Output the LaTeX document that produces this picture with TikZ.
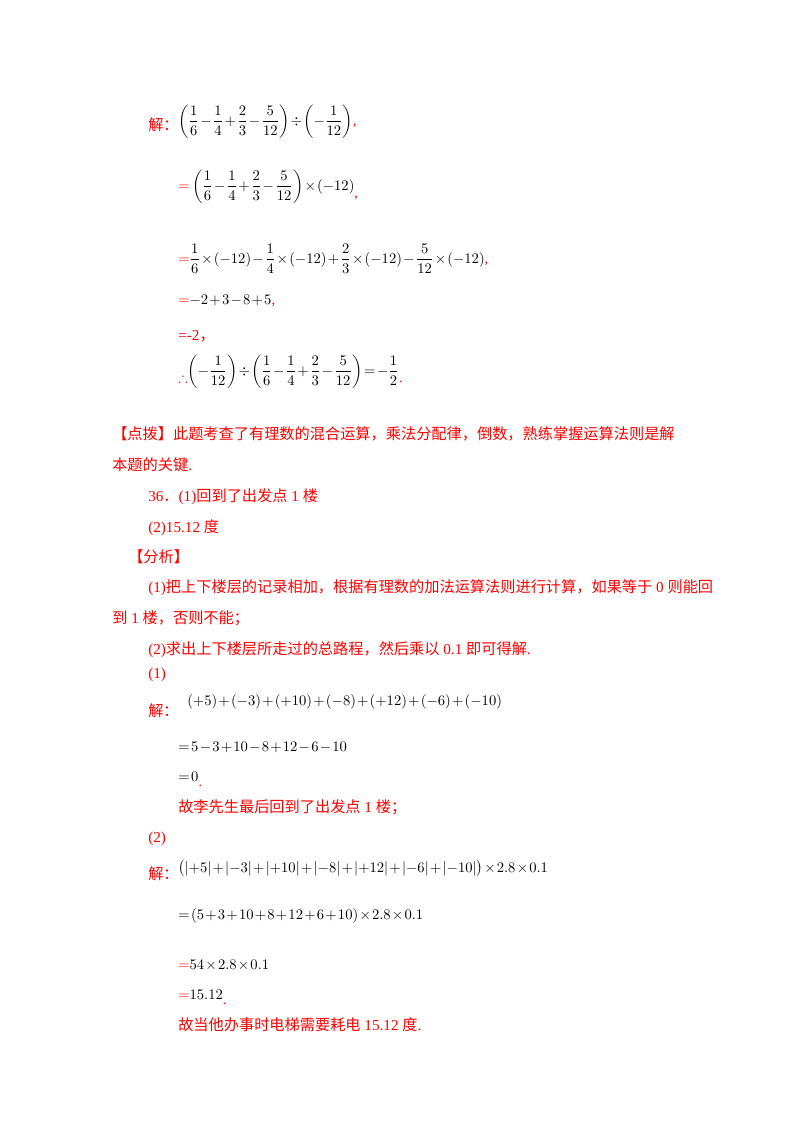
\documentclass[tikz,border=0pt]{standalone}
\usepackage{amsmath,amssymb}
\usepackage{fontspec}
\setmainfont{Liberation Serif}
\newfontfamily\cjk{Noto Sans CJK SC}
\definecolor{rd}{RGB}{255,0,0}
\newcommand{\zh}[1]{{\cjk #1}}
\medmuskip=1.5mu plus 1mu
\thickmuskip=2mu plus 1mu
\begin{document}
\begin{tikzpicture}[x=0.75pt,y=-0.75pt,
  t/.style={anchor=base west,inner sep=0pt,font=\fontsize{11.4}{13}\selectfont},
  r/.style={t,text=rd},
  m/.style={t,font=\fontsize{10.5}{12}\selectfont}]
\useasboundingbox (0,0) rectangle (800,1132);
\node[r] (a1) at (148,130) {\zh{解：}};
\node[m] (a2) at (178,125) {$\left(\dfrac16-\dfrac14+\dfrac23-\dfrac5{12}\right)\div\left(-\dfrac1{12}\right)$\textcolor{rd}{,}};
\node[m] (b1) at (178,190) {$\textcolor{rd}{=}\left(\dfrac16-\dfrac14+\dfrac23-\dfrac5{12}\right)\times(-12)$\raisebox{-1.2ex}{\textcolor{rd}{,}}};
\node[m] (c1) at (178,263) {$\textcolor{rd}{=}\dfrac16\times(-12)-\dfrac14\times(-12)+\dfrac23\times(-12)-\dfrac5{12}\times(-12)$\textcolor{rd}{,}};
\node[m] (d1) at (178,304) {$\textcolor{rd}{=}{-2}+3-8+5$\textcolor{rd}{,}};
\node[r] (e1) at (178,340) {=-2\zh{，}};
\node[m] (f1) at (178,375) {\raisebox{-1.2ex}{\textcolor{rd}{$\therefore$}}$\left(-\dfrac1{12}\right)\div\left(\dfrac16-\dfrac14+\dfrac23-\dfrac5{12}\right)=-\dfrac12$\raisebox{-1.2ex}{\textcolor{rd}{.}}};
\node[r] (g1) at (112,439) {\zh{【点拨】此题考查了有理数的混合运算，乘法分配律，倒数，熟练掌握运算法则是解}};
\node[r] (g2) at (112,470) {\zh{本题的关键}.};
\node[r] (h1) at (148,501) {36\zh{．}(1)\zh{回到了出发点} 1 \zh{楼}};
\node[r] (h2) at (148,532) {(2)15.12 \zh{度}};
\node[r] (h3) at (128,562) {\zh{【分析】}};
\node[r] (h4) at (148,592) {(1)\zh{把上下楼层的记录相加，根据有理数的加法运算法则进行计算，如果等于} 0 \zh{则能回}};
\node[r] (h5) at (112,623) {\zh{到} 1 \zh{楼，否则不能；}};
\node[r] (h6) at (148,654) {(2)\zh{求出上下楼层所走过的总路程，然后乘以} 0.1 \zh{即可得解}.};
\node[r] (i1) at (148,678) {(1)};
\node[r] (i2) at (148,716) {\zh{解：}};
\node[m] (i3) at (187,705) {$\left(+5\right)+\left(-3\right)+\left(+10\right)+\left(-8\right)+\left(+12\right)+\left(-6\right)+\left(-10\right)$};
\node[m] (i4) at (178,751) {$=5-3+10-8+12-6-10$};
\node[m] (i5) at (178,781) {$=0$\raisebox{-0.8ex}{\textcolor{rd}{ .}}};
\node[r] (i6) at (178,812) {\zh{故李先生最后回到了出发点} 1 \zh{楼；}};
\node[r] (j1) at (148,842) {(2)};
\node[r] (j2) at (148,879) {\zh{解：}};
\node[m] (j3) at (178,872) {$\bigl(|{+5}|+|{-3}|+|{+10}|+|{-8}|+|{+12}|+|{-6}|+|{-10}|\bigr)\times2.8\times0.1$};
\node[m] (j4) at (178,919) {$=(5+3+10+8+12+6+10)\times2.8\times0.1$};
\node[m] (j5) at (178,969) {$\textcolor{rd}{=}54\times2.8\times0.1$};
\node[m] (j6) at (178,999) {$\textcolor{rd}{=}15.12$\raisebox{-0.8ex}{\textcolor{rd}{ .}}};
\node[r] (j7) at (178,1030) {\zh{故当他办事时电梯需要耗电} 15.12 \zh{度}.};
\end{tikzpicture}
\end{document}
